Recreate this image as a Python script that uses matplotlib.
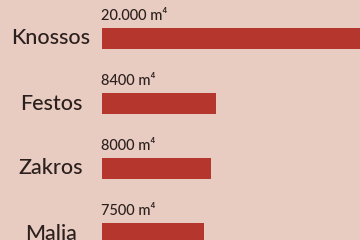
import matplotlib
matplotlib.use("Agg")
from matplotlib import pyplot as plt

sites = ["Knossos", "Festos", "Zakros", "Malia"]
areas = [20000, 8400, 8000, 7500]
area_labels = ["20.000 m⁴", "8400 m⁴", "8000 m⁴", "7500 m⁴"]

BG = "#e8cbc1"
BAR = "#b5362d"
INK = "#2b201d"

fig = plt.figure(figsize=(3.6, 2.4), dpi=100, facecolor=BG)
ax = fig.add_axes([0, 0, 1, 1], facecolor=BG)

rows = range(len(sites))
ax.barh(list(rows), areas, height=0.33, color=BAR, edgecolor="none")

px = 0.01357  # pixels per m2
ax.set_xlim(-102 / px, (360 - 102) / px)
ax.set_ylim((240 - 38.5) / 65, -38.5 / 65)

for i, (name, lab) in enumerate(zip(sites, area_labels)):
    ax.text(-51 / px, i, name, ha="center", va="center", fontsize=15.5,
            color=INK, family=["Lato", "DejaVu Sans"], weight="medium")
    ax.text(-1 / px, i - 0.29, lab, ha="left", va="baseline", fontsize=10.5,
            color=INK, family=["Lato", "DejaVu Sans"], weight="medium")

ax.axis("off")
fig.savefig("out.png", dpi=100, facecolor=BG)
